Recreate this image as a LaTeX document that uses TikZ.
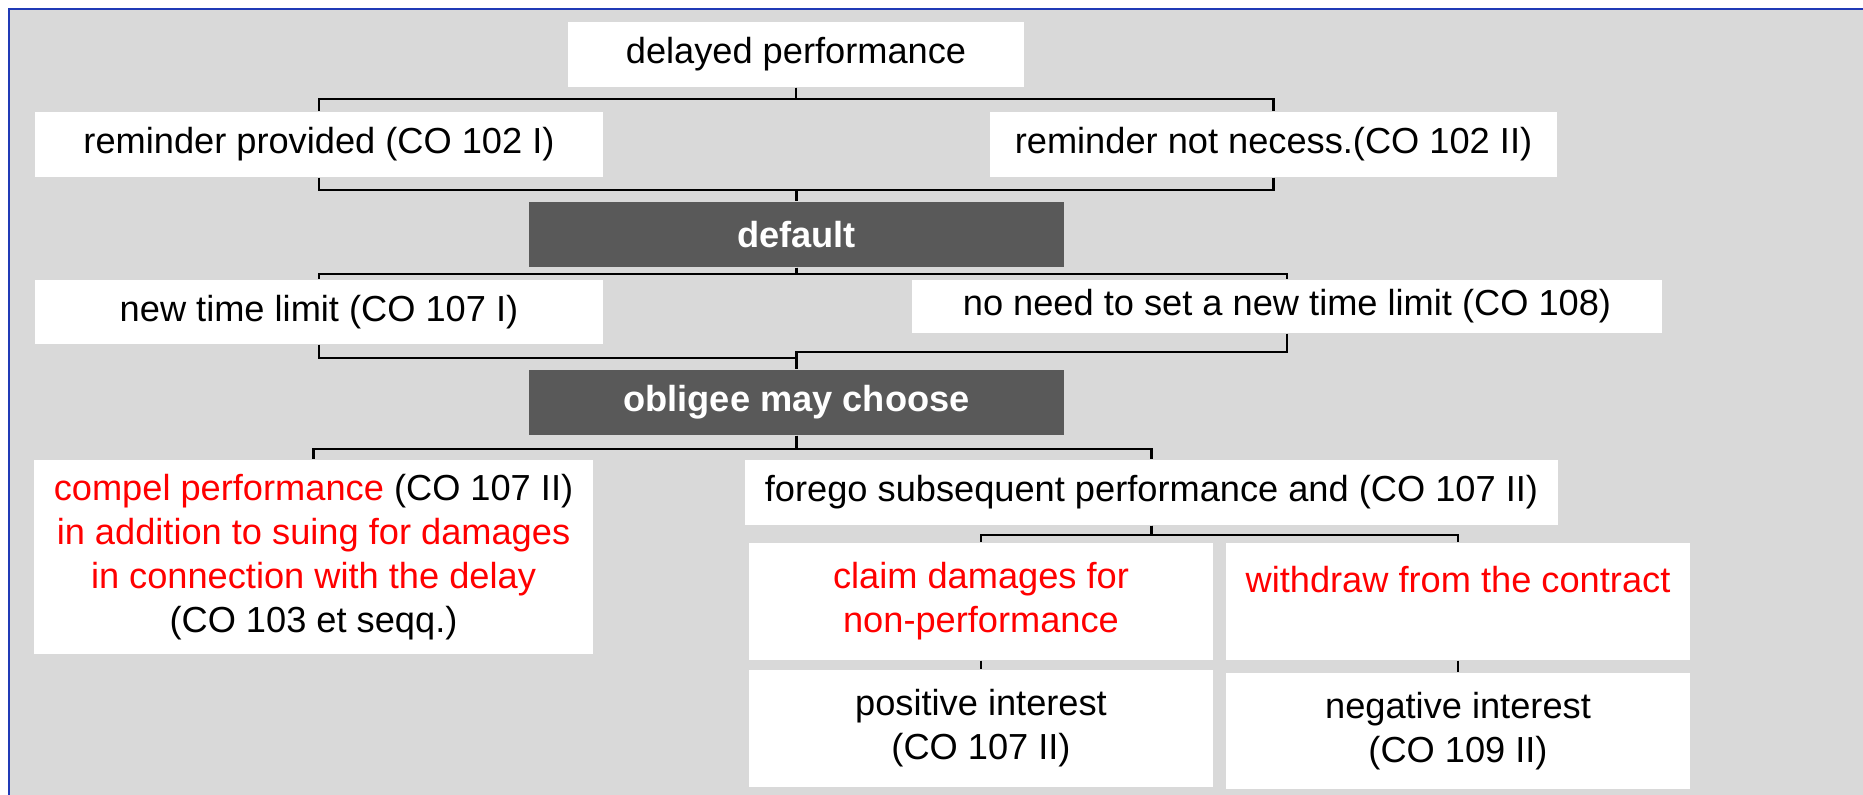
\documentclass[tikz,border=0pt]{standalone}
\usepackage{fontspec}
\setmainfont{Liberation Sans}
\usepackage{xcolor}
\usetikzlibrary{positioning}
\definecolor{panelgray}{RGB}{217,217,217}
\definecolor{darkfill}{RGB}{89,89,89}
\definecolor{frameblue}{RGB}{32,58,182}
\newcommand{\redtext}[1]{\textcolor{red}{#1}}
\tikzset{
    x=0.01cm, % one unit is one pixel of the layout
    y=-0.01cm, % y runs downwards
    every node/.style={inner sep=0pt, align=center, font=\fontsize{10.3}{12.5}\selectfont}, % plain text, centred
    box/.style 2 args={fill=white, minimum width=#1*0.01cm, minimum height=#2*0.01cm}, % white boxes
    headbox/.style 2 args={box={#1}{#2}, fill=darkfill, text=white, font=\fontsize{10.3}{12.5}\selectfont\bfseries}, % dark boxes
    link/.style={line width=0.6pt, black}, % tree connectors
}

\begin{document}
\begin{tikzpicture}
    \useasboundingbox (0,0) rectangle (1863,795);
    \fill[white] (0,0) rectangle (1863,795);
    \fill[panelgray] (9,9) rectangle (1863,795);
    \draw[frameblue, line width=0.6pt] (9,795) -- (9,9) -- (1863,9);

    \node[box={456}{65}] (delayed) at (796,54.5) {delayed performance};
    \node[box={568}{65}] (remA) at (319,144.5) {reminder provided (CO 102 I)};
    \node[box={567}{65}] (remB) at (1273.5,144.5) {reminder not necess.(CO 102 II)};
    \node[headbox={535}{65}] (default) at (796.5,234.5) {default};
    \node[box={568}{64}] (newtime) at (319,312) {new time limit (CO 107 I)};
    \node[box={750}{53}] (noneed) at (1287,306.5) {no need to set a new time limit (CO 108)};
    \node[headbox={535}{65}] (obligee) at (796.5,402.5) {obligee may choose};
    \node[box={559}{194}] (compel) at (313.5,557) {\redtext{compel performance} (CO 107 II)\\
        \redtext{in addition to suing for damages}\\
        \redtext{in connection with the delay}\\
        (CO 103 et seqq.)};
    \node[box={813}{65}] (forego) at (1151.5,492.5) {forego subsequent performance and (CO 107 II)};
    \node[box={464}{117}] (claim) at (981,601.5) {\redtext{claim damages for}\\ \redtext{non-performance}};
    \node[box={464}{117}] (withdraw) at (1458,601.5) {\redtext{withdraw from the contract}\\ \phantom{x}};
    \node[box={464}{117}] (positive) at (981,728.5) {positive interest\\ (CO 107 II)};
    \node[box={464}{116}] (negative) at (1458,731) {negative interest\\ (CO 109 II)};

    \draw[link] (delayed.south) -- ++(0,11) -| (remA.north);
    \draw[link] (delayed.south) -- ++(0,11) -| (remB.north);
    \draw[link] (remA.south) -- ++(0,12) -| (default.north);
    \draw[link] (remB.south) -- ++(0,12) -| (default.north);
    \draw[link] (default.south) -- ++(0,6) -| (newtime.north);
    \draw[link] (default.south) -- ++(0,6) -| (noneed.north);
    \draw[link] (newtime.south) -- ++(0,13) -| (obligee.north);
    \draw[link] (noneed.south) -- ++(0,18) -| (obligee.north);
    \draw[link] (obligee.south) -- ++(0,13) -| (compel.north);
    \draw[link] (obligee.south) -- ++(0,13) -| (forego.north);
    \draw[link] (forego.south) -- ++(0,9) -| (claim.north);
    \draw[link] (forego.south) -- ++(0,9) -| (withdraw.north);
    \draw[link] (claim.south) -- (positive.north);
    \draw[link] (withdraw.south) -- (negative.north);
\end{tikzpicture}
\end{document}
